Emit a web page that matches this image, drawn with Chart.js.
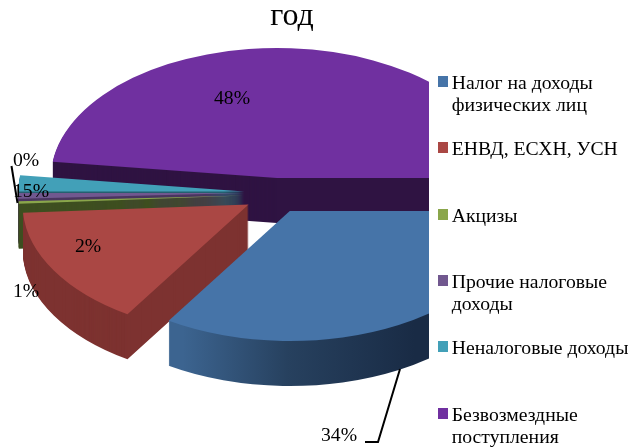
<!DOCTYPE html>
<html><head><meta charset="utf-8">
<style>html,body{margin:0;padding:0;background:#fff}#w{width:631px;height:447px;position:relative}</style>
<script src="https://cdn.jsdelivr.net/npm/chart.js@4/dist/chart.umd.min.js"></script>
</head><body><div id="w"><canvas id="c" width="631" height="447"></canvas></div>
<script>
const titleText = 'год';
const categories = [['Налог на доходы','физических лиц'],['ЕНВД, ЕСХН, УСН'],['Акцизы'],['Прочие налоговые','доходы'],['Неналоговые доходы'],['Безвозмездные','поступления']];
const shares = [34, 15, 0.3, 0.7, 2, 48];
const percentLabels = ['34%','15%','0%','1%','2%','48%'];
const topColors = ['#4674a8','#aa4744','#8aa64b','#71588f','#42a0b8','#7030a0'];
const sideColors = [null,'#7d3230','#3e4f20','#4a3560','#256070','#2f1342'];
const serif = '"Liberation Serif","Times New Roman",serif';

const K = 0.575, DEPTH = 45, PIE_X = 275, PIE_Y = 195.6, CLIP_X = 429, EXPLODE = 30.7;
const liftPx = [0,0,1,3,3,0];

const pie3d = {
  id:'pie3d',
  beforeDatasetsDraw(chart){
    const ctx = chart.ctx, arcs = chart.getDatasetMeta(0).data;
    const ax = arcs[0].x, ay = arcs[0].y;
    const blueSide = ctx.createLinearGradient(168-(PIE_X-ax),0,400-(PIE_X-ax),0);
    blueSide.addColorStop(0,'#3c6490'); blueSide.addColorStop(0.45,'#27415f'); blueSide.addColorStop(1,'#192b45');
    ctx.save();
    ctx.beginPath(); ctx.rect(0,0,CLIP_X,447); ctx.clip();
    [5,4,3,2,1,0].forEach(i=>{
      const arc = arcs[i];
      const mid = (arc.startAngle+arc.endAngle)/2;
      const ex = EXPLODE*Math.cos(mid), ey = EXPLODE*Math.sin(mid);
      const paint = (d,color)=>{
        ctx.save();
        ctx.translate(PIE_X, PIE_Y+d-liftPx[i]); ctx.scale(1,K); ctx.translate(ex-ax,ey-ay);
        const proxy = Object.create(arc);
        proxy.options = Object.assign({},arc.options,{backgroundColor:color,borderWidth:0});
        proxy.draw(ctx);
        ctx.restore();
      };
      const side = sideColors[i] || blueSide;
      for(let d=DEPTH;d>0;d-=1) paint(d,side);
      paint(0,topColors[i]);
    });
    ctx.restore();
    return false;
  },
  afterDraw(chart){
    const ctx = chart.ctx;
    ctx.save();
    // leader lines
    ctx.strokeStyle='#000'; ctx.lineWidth=2;
    ctx.beginPath(); ctx.moveTo(11.5,166); ctx.lineTo(17.5,203); ctx.stroke();
    ctx.beginPath(); ctx.moveTo(400,369); ctx.lineTo(378,442); ctx.lineTo(365,442); ctx.stroke();
    // data labels
    ctx.fillStyle='#000'; ctx.font='19.7px '+serif; ctx.textAlign='center'; ctx.textBaseline='alphabetic';
    const spots=[[339,441],[31,197],[26,166],[26,297],[88,252],[232,104]];
    percentLabels.forEach((t,i)=>ctx.fillText(t,spots[i][0],spots[i][1]));
    // legend
    ctx.textAlign='left';
    categories.forEach((lines,i)=>{
      const y = 75.7+66.4*i;
      ctx.fillStyle=topColors[i]; ctx.fillRect(438,Math.round(y),10,11);
      ctx.fillStyle='#000';
      lines.forEach((l,j)=>ctx.fillText(l,451.7,y+13+22*j));
    });
    ctx.restore();
  }
};

new Chart(document.getElementById('c'),{
  type:'pie',
  data:{labels:categories.map(c=>c.join(' ')),datasets:[{data:shares,backgroundColor:topColors,borderWidth:0,radius:226}]},
  options:{
    responsive:false,animation:false,rotation:90,
    layout:{padding:{left:0,right:47,top:0,bottom:0}},
    plugins:{
      legend:{display:false},tooltip:{enabled:false},
      title:{display:true,text:titleText,fullSize:false,color:'#000',font:{family:serif,size:32,weight:'normal'},padding:{top:-3,bottom:0}}
    }
  },
  plugins:[pie3d]
});
</script></body></html>
